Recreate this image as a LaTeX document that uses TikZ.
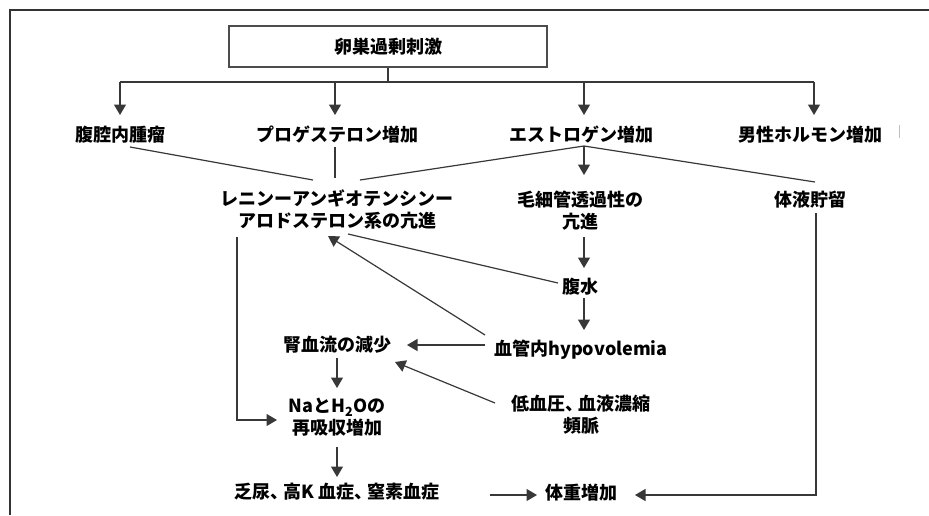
\documentclass[tikz,border=0pt]{standalone}
\usepackage{fontspec}
\setmainfont{Noto Sans CJK JP}
\usetikzlibrary{arrows.meta,calc}
\newcommand{\jcomma}{、\kern-5pt}
\begin{document}
\begin{tikzpicture}[x=1pt,y=-1pt,
  lbl/.style={font=\fontsize{18}{22}\selectfont\bfseries, inner sep=0pt, align=center, text=black},
  ln/.style={draw=black!78, line width=1.2pt},
  arr/.style={ln, -{Triangle[width=12pt,length=10.5pt]}},
  frame/.style={draw=black!80, line width=2pt}
 ]
\useasboundingbox (0,0) rectangle (929,515);
\fill[white] (0,0) rectangle (929,515);
\draw[frame] (10,515) -- (10,10) -- (929,10);

% nodes
\node[lbl, draw=black!70, line width=1.2pt, minimum width=318pt, minimum height=41pt] (ovary) at (388,46.5) {\raisebox{-4pt}{卵巣過剰刺激}};
\node[lbl] (T) at (120,135) {腹腔内腫瘤};
\node[lbl] (P) at (337,135) {プロゲステロン増加};
\node[lbl] (E) at (581,135) {エストロゲン増加};
\node[lbl] (A) at (810,135) {男性ホルモン増加};
\node[lbl] (R) at (337,209) {レニンーアンギオテンシンー\\アロドステロン系の亢進};
\node[lbl] (C) at (580,211) {毛細管透過性の\\亢進};
\node[lbl] (F) at (810,200) {体液貯留};
\node[lbl] (As) at (580,287) {腹水};
\node[lbl] (H) at (581,350) {血管内hypovolemia};
\node[lbl] (K) at (337,345) {腎血流の減少};
\node[lbl] (L) at (581,415) {低血圧\jcomma 血液濃縮\\頻脈};
\node[lbl] (N) at (337,417.5) {NaとH\textsubscript{2}Oの\\再吸収増加};
\node[lbl] (O) at (337,492) {乏尿\jcomma 高K 血症\jcomma 窒素血症};
\node[lbl] (W) at (581,493) {体重増加};

% junctions
\coordinate (hb) at (388,82);
\coordinate (busL) at (120,82);
\coordinate (busR) at (814,82);
\coordinate (ej) at ($(E)+(3,11)$);

% top distribution
\draw[ln] (ovary.south) -- (hb);
\draw[ln] (busL) -- (busR);
\draw[arr] (busL) -- ($(T)+(0,-20)$);
\draw[arr] ($(P)+(-2,-53)$) -- ($(P)+(-2,-20)$);
\draw[arr] ($(E)+(3,-53)$) -- ($(E)+(3,-20)$);
\draw[arr] (busR) -- ($(A)+(4,-20)$);

% into renin / fluid / capillary
\draw[ln] ($(T)+(10,12)$) -- ($(R)+(-24,-29)$);
\draw[ln] ($(P)+(-2,12)$) -- ($(R)+(-2,-31)$);
\draw[ln] (ej) -- ($(R)+(23,-29)$);
\draw[ln] (ej) -- ($(F)+(5,-18)$);
\draw[arr] (ej) -- ($(C)+(4,-36)$);

% renin -> Na
\draw[arr] ($(R)+(-100,28)$) |- ($(N)+(-60,2.5)$);
% fluid -> weight
\draw[arr] ($(F)+(6,13)$) |- ($(W)+(54,2)$);

% capillary chain
\draw[arr] ($(C)+(4,26)$) -- ($(As)+(4,-19)$);
\draw[ln] ($(As)+(-22,-4)$) -- ($(R)+(11,25)$);
\draw[arr] ($(As)+(4,11)$) -- ($(H)+(3,-20)$);
\draw[arr] ($(H)+(-96,-15)$) -- ($(R)+(-9,27)$);
\draw[arr] ($(H)+(-96,-5)$) -- ($(K)+(70,0)$);
\draw[arr] ($(L)+(-86,-12)$) -- ($(K)+(58,17)$);

% left chain
\draw[arr] ($(K)+(0,13)$) -- ($(N)+(0,-29.5)$);
\draw[arr] ($(N)+(0,29.5)$) -- ($(O)+(0,-15)$);
\draw[arr] ($(O)+(153,3)$) -- ($(W)+(-44,2)$);

% small mark
\draw[black!25, line width=0.8pt] (899,125) -- (899,138);
\end{tikzpicture}
\end{document}
